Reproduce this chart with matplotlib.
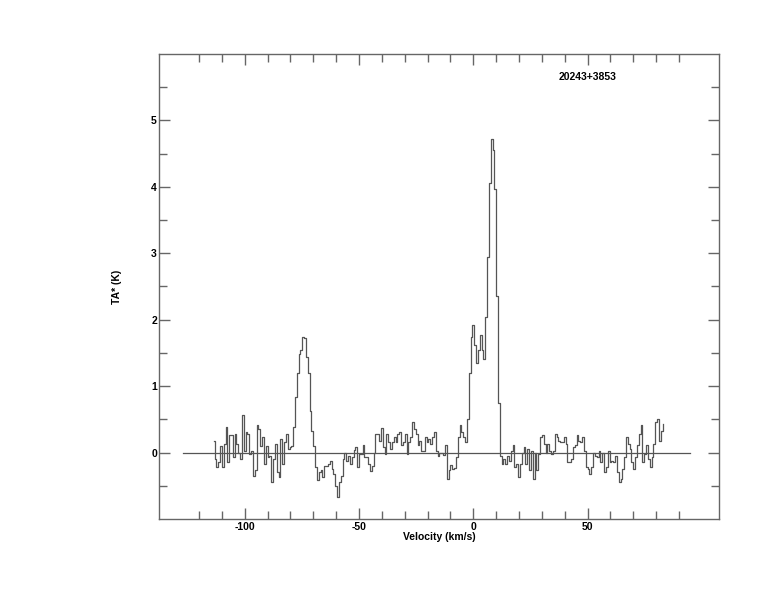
import matplotlib
matplotlib.use("Agg")
import matplotlib.pyplot as plt
import numpy as np
from matplotlib.ticker import FixedLocator

# spectrum channels: first velocity and channel width (km/s)
v_start = -113.6
dv = 0.8

# TA* (K) per channel
ta_seg1 = [  # -113.6 .. -64.8
    0.17, -0.10, -0.22, -0.15, 0.10, -0.22, 0.13, 0.38, -0.15, 0.26,
    0.26, -0.07, 0.28, 0.13, 0.00, -0.10, 0.57, 0.03, 0.31, 0.28,
    -0.02, 0.03, -0.36, -0.27, 0.42, 0.36, 0.10, 0.23, -0.17, 0.10,
    -0.07, -0.05, -0.44, -0.10, 0.13, -0.30, -0.37, 0.21, -0.17, 0.16,
    0.28, 0.06, 0.08, 0.10, 0.38, 0.84, 1.19, 1.49, 1.54, 1.74,
    1.72, 1.44, 1.19, 0.63, 0.33, 0.10, -0.22, -0.42, -0.30, -0.27,
    -0.37, -0.20,
]
ta_seg2 = [  # -64.0 .. -16.0
    -0.20, -0.17, -0.12, -0.25, -0.32, -0.50, -0.67, -0.45, -0.35, -0.10,
    0.00, -0.12, -0.05, -0.17, -0.07, 0.04, 0.08, -0.22, -0.02, -0.02,
    0.11, -0.07, -0.06, -0.17, -0.28, -0.20, 0.00, 0.28, 0.28, 0.18,
    0.37, 0.08, -0.02, 0.28, 0.16, 0.06, 0.16, 0.23, 0.16, 0.28,
    0.31, 0.11, 0.16, 0.28, -0.02, 0.16, 0.23, 0.46, 0.36, 0.28,
    0.11, 0.18, 0.03, 0.03, 0.23, 0.16, 0.21, 0.13, 0.23, 0.31,
    0.03,
]
ta_seg3 = [  # -15.2 .. 33.6
    -0.05, 0.00, 0.00, -0.03, 0.11, -0.40, -0.27, -0.19, -0.25, -0.23,
    -0.07, 0.23, 0.41, 0.31, 0.23, 0.16, 0.51, 1.19, 1.74, 1.92,
    1.62, 1.34, 1.54, 1.77, 1.54, 1.41, 2.04, 2.95, 4.06, 4.72,
    4.55, 3.96, 2.35, 0.74, -0.05, -0.17, -0.10, -0.17, -0.05, -0.12,
    0.03, 0.11, -0.22, -0.17, -0.37, -0.17, 0.00, 0.08, -0.17, 0.06,
    -0.27, 0.03, -0.40, 0.00, -0.27, -0.02, 0.23, 0.26, 0.13, 0.00,
    0.13, 0.03,
]
ta_seg4 = [  # 34.4 .. 83.2
    -0.02, 0.03, 0.28, 0.23, 0.18, 0.16, 0.16, 0.23, 0.13, -0.15,
    -0.15, -0.10, 0.08, 0.11, 0.26, 0.18, 0.16, 0.23, 0.03, -0.22,
    -0.25, -0.32, -0.22, 0.00, -0.05, -0.07, 0.03, -0.15, 0.00, -0.30,
    -0.22, 0.03, -0.15, -0.12, -0.15, -0.05, -0.30, -0.45, -0.40, -0.25,
    -0.07, 0.23, 0.13, 0.06, -0.15, -0.25, -0.07, 0.11, 0.28, 0.41,
    -0.15, -0.02, 0.11, -0.10, -0.22, -0.07, 0.13, 0.46, 0.51, 0.18,
    0.33, 0.43,
]

baseline_range = [-127, 95]
source_name = "20243+3853"

x_major = [-100, -50, 0, 50]
x_minor = [-120, -110, -90, -80, -70, -60, -40, -30, -20, -10,
           10, 20, 30, 40, 60, 70, 80, 90]
y_major = [0, 1, 2, 3, 4, 5]
y_minor = [-0.5, 0.5, 1.5, 2.5, 3.5, 4.5, 5.5]

ta = np.array(ta_seg1 + ta_seg2 + ta_seg3 + ta_seg4)
vel = v_start + dv * np.arange(len(ta))

plt.rcParams["font.family"] = ["Liberation Sans", "DejaVu Sans"]
plt.rcParams["font.weight"] = "bold"
plt.rcParams["font.size"] = 7.5
plt.rcParams["axes.unicode_minus"] = False

grey = "#666666"
fig = plt.figure(figsize=(7.74, 6.12), dpi=100)
ax = fig.add_axes([0.2054, 0.152, 0.7236, 0.76])

ax.plot(vel, ta, drawstyle="steps-mid", color="#555555", lw=0.9)
ax.plot(baseline_range, [0, 0], color="#555555", lw=0.9)

ax.set_xlim(-137.5, 107.5)
ax.set_ylim(-1, 6)
ax.xaxis.set_major_locator(FixedLocator(x_major))
ax.xaxis.set_minor_locator(FixedLocator(x_minor))
ax.yaxis.set_major_locator(FixedLocator(y_major))
ax.yaxis.set_minor_locator(FixedLocator(y_minor))
ax.tick_params(which="both", direction="in", top=True, right=True,
               color=grey, width=1.0)
ax.tick_params(which="major", length=8)
ax.tick_params(which="minor", length=5.5)
ax.tick_params(axis="x", pad=2)
ax.tick_params(axis="y", pad=1.5)
for s in ax.spines.values():
    s.set_color(grey)
    s.set_linewidth(1.0)

ax.set_xlabel("Velocity (km/s)", fontweight="bold", labelpad=0)
ax.set_ylabel("TA* (K)", fontweight="bold", labelpad=21)
ax.text(0.765, 0.95, source_name, transform=ax.transAxes, ha="center",
        va="center", fontweight="bold")

fig.savefig("out.png", dpi=100)
